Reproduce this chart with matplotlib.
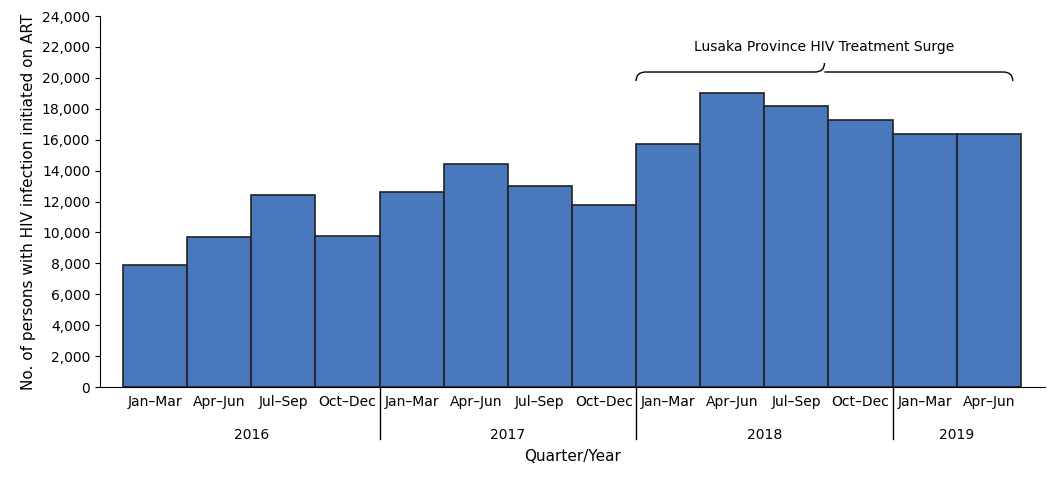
import matplotlib.pyplot as plt
import numpy as np
from matplotlib.path import Path
from matplotlib.patches import PathPatch

quarters = ["Jan–Mar","Apr–Jun","Jul–Sep","Oct–Dec"]*3 + ["Jan–Mar","Apr–Jun"]
years = ["2016","2017","2018","2019"]
year_counts = [4,4,4,2]
values = [7900,9700,12400,9750,12600,14400,13000,11800,15700,19000,18200,17300,16400,16400]

fig = plt.figure(figsize=(10.64,4.79), dpi=100)
ax = fig.add_axes([0.094,0.192,0.888,0.7745])
x = np.arange(len(values))
ax.bar(x, values, width=1.0, color="#4a78bc", edgecolor="#222222", linewidth=1.2)
ax.set_xlim(-0.86, 13.875)
ax.set_ylim(0, 24000)
ax.set_yticks(range(0,24001,2000))
ax.set_yticklabels([f"{v:,}" for v in range(0,24001,2000)], fontsize=10)
for s in ["top","right"]:
    ax.spines[s].set_visible(False)
ax.set_xticks(x)
ax.set_xticklabels(quarters, fontsize=10)
ax.tick_params(axis="x", length=0, pad=6)
ax.set_ylabel("No. of persons with HIV infection initiated on ART", fontsize=11)
tr = ax.get_xaxis_transform()
start = 0
for y, c in zip(years, year_counts):
    ax.text(start + c/2 - 0.5, -0.13, y, transform=tr, ha="center", va="center", fontsize=10)
    start += c
    if start < len(values):
        ax.plot([start-0.5, start-0.5], [0, -0.14], transform=tr, color="black", lw=1, clip_on=False)
ax.text(0.5, -0.187, "Quarter/Year", transform=ax.transAxes, ha="center", va="center", fontsize=11)

# brace
x0, x1 = 7.5, 13.375
xm = (x0+x1)/2
yb, yl, yt = 19800, 20380, 20960
d = 0.15
verts = [(x0,yb),(x0,yl),(x0+d,yl),(xm-d,yl),(xm,yl),(xm,yt),
         (xm,yl),(xm+d,yl),(x1-d,yl),(x1,yl),(x1,yb)]
codes = [Path.MOVETO,Path.CURVE3,Path.CURVE3,Path.LINETO,Path.CURVE3,Path.CURVE3,
         Path.MOVETO,Path.CURVE3,Path.LINETO,Path.CURVE3,Path.CURVE3]
ax.add_patch(PathPatch(Path(verts,codes), fill=False, lw=1, color="black"))
ax.text(xm, 22000, "Lusaka Province HIV Treatment Surge", ha="center", va="center", fontsize=10)
fig.savefig("out.png", dpi=100)
